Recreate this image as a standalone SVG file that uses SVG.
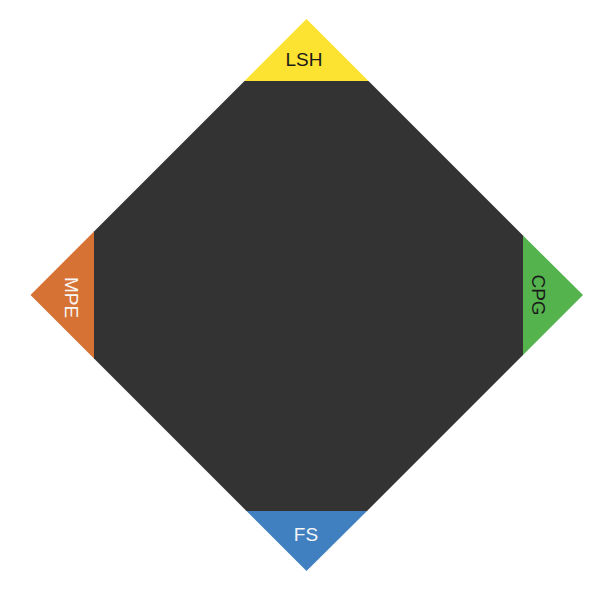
<svg xmlns="http://www.w3.org/2000/svg" width="605" height="592" viewBox="0 0 605 592">
<style>
.lbl{font-family:"Liberation Sans",Arial,sans-serif;font-size:19px;text-anchor:middle}
.dark{fill:#1a1a1a}
.light{fill:#f6f6f6}
</style>
<rect width="605" height="592" fill="#fff"/>
<g id="center"><polygon points="244.5,81 368.5,81 523,235.5 523,355 367,511 246.5,511 94,358.5 94,231.5" fill="#333333"/></g>
<g id="LSH"><polygon points="306.5,19 368.5,81 244.5,81" fill="#fde331"/><text class="lbl dark" x="304" y="66">LSH</text></g>
<g id="MPE"><polygon points="30.5,295 94,231.5 94,358.5" fill="#d67234"/><text class="lbl light" transform="translate(64.5,297.5) rotate(90)" x="0" y="0">MPE</text></g>
<g id="CPG"><polygon points="583,295 523,235.5 523,355" fill="#55b34e"/><text class="lbl dark" transform="translate(531.5,295) rotate(90)" x="0" y="0">CPG</text></g>
<g id="FS"><polygon points="306.5,571 367,511 246.5,511" fill="#4080c0"/><text class="lbl light" x="306" y="541">FS</text></g>
<g id="connectors"/>
</svg>
